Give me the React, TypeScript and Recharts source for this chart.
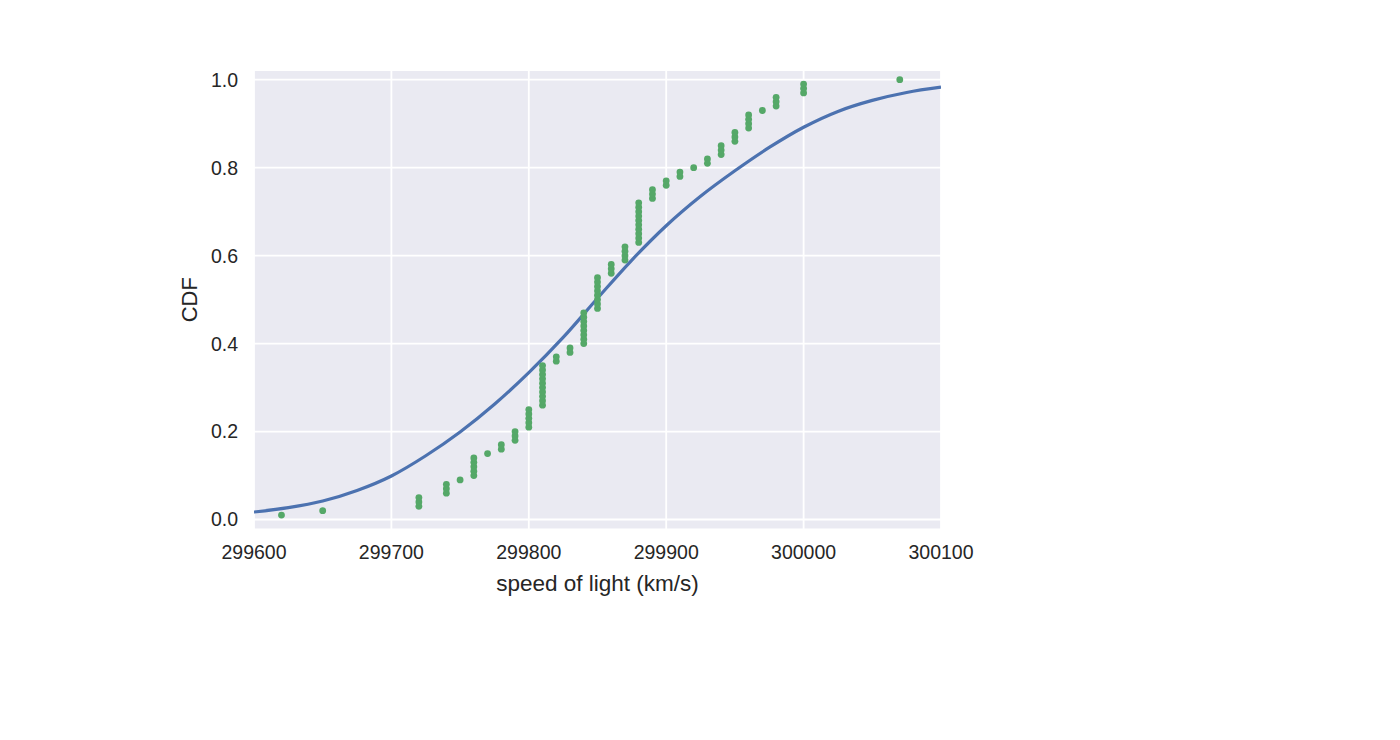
import React from 'react';
import { ComposedChart, Line, Scatter, XAxis, YAxis, CartesianGrid } from 'recharts';

// Empirical CDF points (sorted measurements, km/s)
const ecdfX = [
  299620, 299650, 299720, 299720, 299720, 299740, 299740, 299740, 299750, 299760,
  299760, 299760, 299760, 299760, 299770, 299780, 299780, 299790, 299790, 299790,
  299800, 299800, 299800, 299800, 299800, 299810, 299810, 299810, 299810, 299810,
  299810, 299810, 299810, 299810, 299810, 299820, 299820, 299830, 299830, 299840,
  299840, 299840, 299840, 299840, 299840, 299840, 299840, 299850, 299850, 299850,
  299850, 299850, 299850, 299850, 299850, 299860, 299860, 299860, 299870, 299870,
  299870, 299870, 299880, 299880, 299880, 299880, 299880, 299880, 299880, 299880,
  299880, 299880, 299890, 299890, 299890, 299900, 299900, 299910, 299910, 299920,
  299930, 299930, 299940, 299940, 299940, 299950, 299950, 299950, 299960, 299960,
  299960, 299960, 299970, 299980, 299980, 299980, 300000, 300000, 300000, 300070,
];
const ecdfY = [
  0.01, 0.02, 0.03, 0.04, 0.05, 0.06, 0.07, 0.08, 0.09, 0.10,
  0.11, 0.12, 0.13, 0.14, 0.15, 0.16, 0.17, 0.18, 0.19, 0.20,
  0.21, 0.22, 0.23, 0.24, 0.25, 0.26, 0.27, 0.28, 0.29, 0.30,
  0.31, 0.32, 0.33, 0.34, 0.35, 0.36, 0.37, 0.38, 0.39, 0.40,
  0.41, 0.42, 0.43, 0.44, 0.45, 0.46, 0.47, 0.48, 0.49, 0.50,
  0.51, 0.52, 0.53, 0.54, 0.55, 0.56, 0.57, 0.58, 0.59, 0.60,
  0.61, 0.62, 0.63, 0.64, 0.65, 0.66, 0.67, 0.68, 0.69, 0.70,
  0.71, 0.72, 0.73, 0.74, 0.75, 0.76, 0.77, 0.78, 0.79, 0.80,
  0.81, 0.82, 0.83, 0.84, 0.85, 0.86, 0.87, 0.88, 0.89, 0.90,
  0.91, 0.92, 0.93, 0.94, 0.95, 0.96, 0.97, 0.98, 0.99, 1.00,
];

// Theoretical CDF curve
const theorX = [
  299600, 299625, 299650, 299675, 299700, 299725, 299750, 299775, 299800, 299825,
  299850, 299875, 299900, 299925, 299950, 299975, 300000, 300025, 300050, 300075, 300100,
];
const theorY = [
  0.017, 0.027, 0.042, 0.066, 0.099, 0.145, 0.199, 0.262, 0.334, 0.414,
  0.503, 0.590, 0.668, 0.735, 0.793, 0.846, 0.892, 0.928, 0.953, 0.971, 0.983,
];

const xTicks = [299600, 299700, 299800, 299900, 300000, 300100];
const yTicks = [0, 0.2, 0.4, 0.6, 0.8, 1.0];

const ecdfData = ecdfX.map((x, i) => ({ x, y: ecdfY[i] }));
const theorData = theorX.map((x, i) => ({ x, y: theorY[i] }));

const FONT = '"Liberation Sans", Arial, sans-serif';
const TEXT = '#262626';

const Dot = (props: any) => {
  const { cx, cy } = props;
  if (cx == null || cy == null) return null;
  return <circle cx={cx} cy={cy} r={3.4} fill="#55a868" />;
};

export default function App() {
  return (
    <div style={{ width: 1384, height: 724, fontFamily: FONT }}>
      <ComposedChart
        width={1384}
        height={724}
        margin={{ top: 62, right: 451, left: 150, bottom: 132.5 }}
        style={{ fontFamily: FONT }}
      >
        <CartesianGrid fill="#EAEAF2" stroke="#ffffff" strokeWidth={1.8} />
        <XAxis
          type="number"
          dataKey="x"
          domain={[299600, 300100]}
          ticks={xTicks}
          allowDataOverflow
          axisLine={false}
          tickLine={false}
          tickSize={0}
          tickMargin={15.5}
          height={70}
          tick={{ fill: TEXT, fontSize: 19.5, fontFamily: FONT }}
          label={{
            value: 'speed of light (km/s)',
            position: 'insideBottom',
            offset: 8.5,
            fill: TEXT,
            fontSize: 22.5,
            fontFamily: FONT,
          }}
        />
        <YAxis
          type="number"
          dataKey="y"
          domain={[-0.0227, 1.0221]}
          ticks={yTicks}
          allowDataOverflow
          axisLine={false}
          tickLine={false}
          tickSize={0}
          tickMargin={16}
          width={96}
          tickFormatter={(v: number) => v.toFixed(1)}
          tick={{ fill: TEXT, fontSize: 19.5, fontFamily: FONT }}
          label={{
            value: 'CDF',
            angle: -90,
            position: 'insideLeft',
            offset: 31,
            fill: TEXT,
            fontSize: 22,
            fontFamily: FONT,
            style: { textAnchor: 'middle' },
          }}
        />
        <Line
          data={theorData}
          dataKey="y"
          type="monotone"
          stroke="#4c72b0"
          strokeWidth={3.2}
          dot={false}
          activeDot={false}
          isAnimationActive={false}
        />
        <Scatter data={ecdfData} dataKey="y" shape={<Dot />} isAnimationActive={false} />
      </ComposedChart>
    </div>
  );
}
